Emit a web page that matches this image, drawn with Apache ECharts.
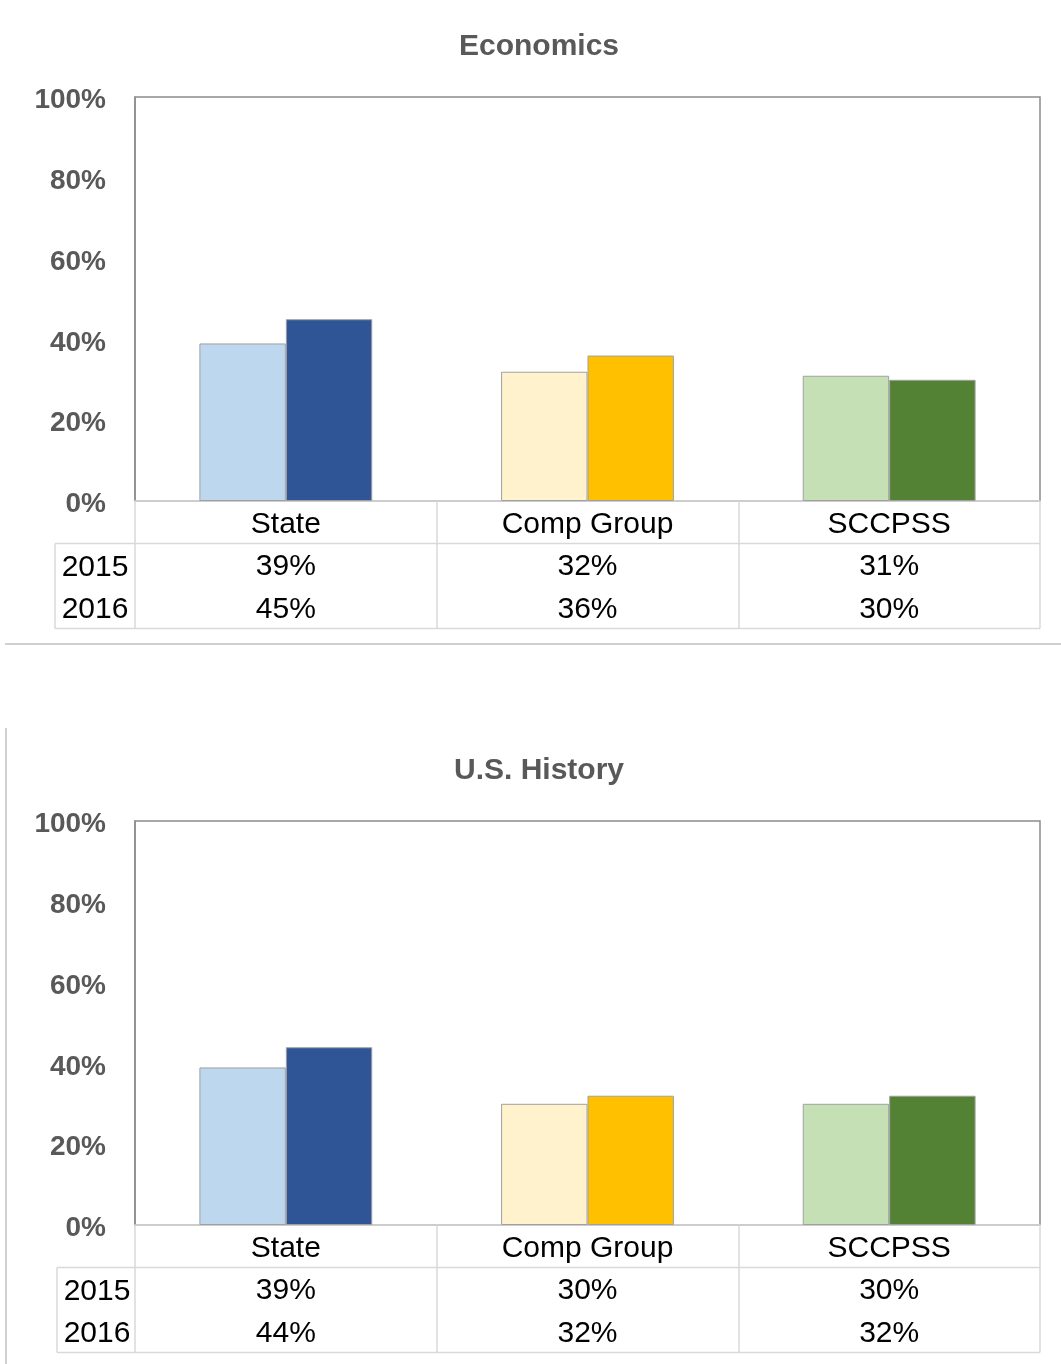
<!DOCTYPE html>
<html>
<head>
<meta charset="utf-8">
<script src="https://cdn.jsdelivr.net/npm/echarts@6/dist/echarts.min.js"></script>
<style>
html,body{margin:0;padding:0;background:#fff;}
#chart{width:1061px;height:1364px;}
</style>
</head>
<body>
<div id="chart"></div>
<script>
// ---- data ----
const categories = ['State', 'Comp Group', 'SCCPSS'];
const years = ['2015', '2016'];
const titles = ['Economics', 'U.S. History'];
const econ2015 = [39, 32, 31];
const econ2016 = [45, 36, 30];
const hist2015 = [39, 30, 30];
const hist2016 = [44, 32, 32];
const yMin = 0, yMax = 100, yStep = 20;

// ---- styles ----
const FONT = "'Liberation Sans', Arial, sans-serif";
const lightColors = ['#BDD7EE', '#FFF2CC', '#C5E0B4'];
const darkColors = ['#2F5597', '#FFC000', '#548235'];
const tableLine = '#d9d9d9';
const frameLine = '#8c8c8c';

const panels = [
  { title: titles[0], d15: econ2015, d16: econ2016, top: 97, titleY: 47, yearLeft: 55 },
  { title: titles[1], d15: hist2015, d16: hist2016, top: 821, titleY: 771, yearLeft: 57 }
];
const gridLeft = 135, gridRight = 21, gridH = 404, rowH = 42.5;

const pct = v => v + '%';

const option = {
  animation: false,
  backgroundColor: '#fff',
  grid: [],
  xAxis: [],
  yAxis: [],
  series: [],
  graphic: []
};

panels.forEach((p, i) => {
  option.graphic.push({
    type: 'text', x: 539, y: p.titleY, silent: true,
    style: { text: p.title, font: 'bold 30px ' + FONT, fill: '#595959', align: 'center', verticalAlign: 'middle' }
  });
  option.grid.push({
    left: gridLeft, right: gridRight, top: p.top, height: gridH,
    show: true, borderColor: frameLine, borderWidth: 1.5, backgroundColor: 'transparent'
  });
  option.xAxis.push({
    type: 'category', gridIndex: i, data: categories,
    axisLine: { show: true, lineStyle: { color: tableLine, width: 1.5 } },
    axisTick: { show: true, inside: false, length: rowH * 3, alignWithLabel: false,
      lineStyle: { color: tableLine, width: 1.5 } },
    axisLabel: {
      margin: 2, fontFamily: FONT, fontSize: 30, color: '#000', lineHeight: rowH,
      verticalAlign: 'top',
      formatter: (val, idx) => val + '\n' + pct(p.d15[idx]) + '\n' + pct(p.d16[idx])
    },
    splitLine: { show: false }
  });
  option.yAxis.push({
    type: 'value', gridIndex: i, min: yMin, max: yMax, interval: yStep,
    axisLine: { show: true, lineStyle: { color: frameLine, width: 1.5 } },
    axisTick: { show: false },
    splitLine: { show: false },
    axisLabel: { margin: 29, color: '#595959',
      formatter: v => '{t|' + v + '%}',
      rich: { t: { fontFamily: FONT, fontSize: 28, fontWeight: 'bold', color: '#595959', padding: [7, 0, 0, 0] } }
    }
  });
  option.series.push({
    name: years[0], type: 'bar', xAxisIndex: i, yAxisIndex: i,
    data: p.d15.map((v, k) => ({ value: v, itemStyle: { color: lightColors[k] } })),
    barCategoryGap: '42.7%', barGap: '0%',
    itemStyle: { borderColor: '#a0a0a0', borderWidth: 1 }
  });
  option.series.push({
    name: years[1], type: 'bar', xAxisIndex: i, yAxisIndex: i,
    data: p.d16.map((v, k) => ({ value: v, itemStyle: { color: darkColors[k] } })),
    barCategoryGap: '42.7%', barGap: '0%',
    itemStyle: { borderColor: '#a0a0a0', borderWidth: 1 }
  });

  // table lines outside of the axis
  const base = p.top + gridH;
  const x0 = p.yearLeft, x1 = 1061 - gridRight;
  const ls = { stroke: tableLine, lineWidth: 1.5 };
  option.graphic.push(
    { type: 'line', shape: { x1: x0, y1: base + rowH, x2: x1, y2: base + rowH }, style: ls, silent: true },
    { type: 'line', shape: { x1: x0, y1: base + rowH * 3, x2: x1, y2: base + rowH * 3 }, style: ls, silent: true },
    { type: 'line', shape: { x1: x0, y1: base + rowH, x2: x0, y2: base + rowH * 3 }, style: ls, silent: true }
  );
  years.forEach((y, k) => {
    option.graphic.push({
      type: 'text', x: x0 + 40, y: base + rowH * (k + 1) + 24,
      style: { text: y, font: '30px ' + FONT, fill: '#000', align: 'center', verticalAlign: 'middle' }, silent: true
    });
  });
});

// panel separators
option.graphic.push(
  { type: 'line', shape: { x1: 5, y1: 644, x2: 1061, y2: 644 }, style: { stroke: '#c0c0c0', lineWidth: 1.5 }, silent: true },
  { type: 'line', shape: { x1: 6, y1: 728, x2: 6, y2: 1364 }, style: { stroke: '#c0c0c0', lineWidth: 1.5 }, silent: true }
);

const chart = echarts.init(document.getElementById('chart'), null, { renderer: 'canvas' });
chart.setOption(option);
</script>
</body>
</html>
